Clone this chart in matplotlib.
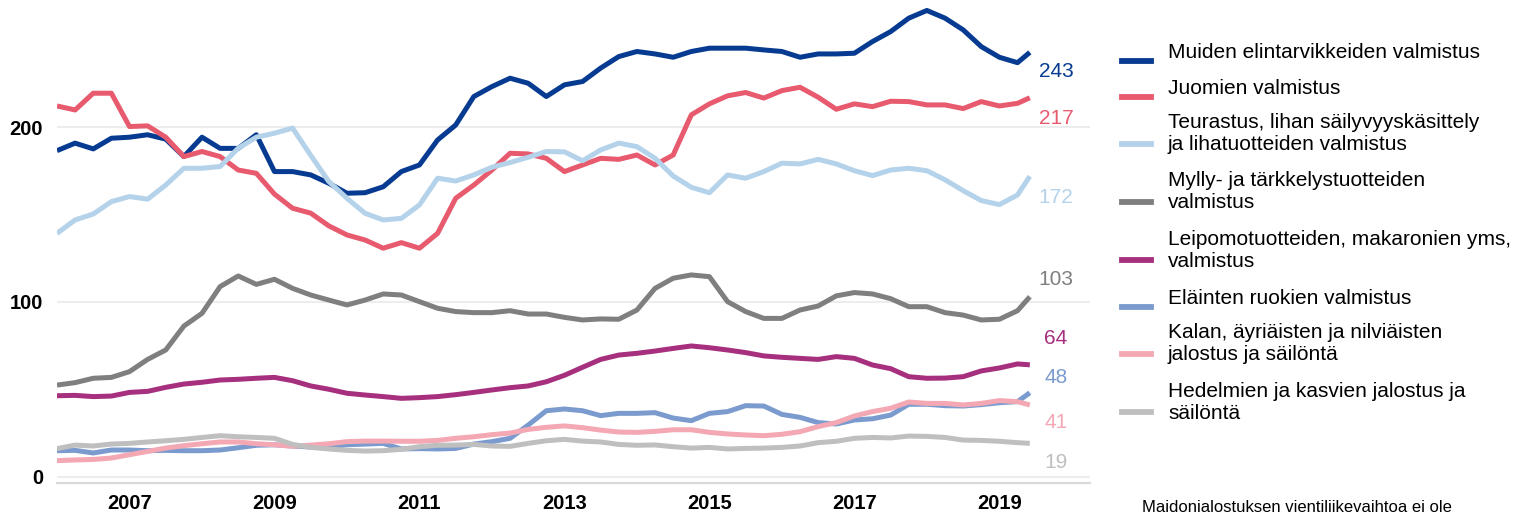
import numpy as np
import matplotlib.pyplot as plt
from matplotlib.lines import Line2D

plt.rcParams['font.family'] = ['Liberation Sans', 'DejaVu Sans']

# quarterly readings 2006..2019Q2 plus the last month
years = list(np.arange(2006, 2019.3, 0.25)) + [2019.42]

muiden = [186.7, 191, 187.7, 193.8, 194.4, 195.8, 193.3, 183.3, 194.4, 188, 188, 195.8, 174.7, 174.7,
          172.8, 168, 162.3, 162.6, 166, 174.7, 178.5, 192.8, 201.4, 217.7, 223.4, 228.2, 225.3, 217.7, 224.4,
          226.3, 234, 240.6, 243.5, 242.1, 240.2, 243.5, 245.4, 245.4, 245.4, 244.4, 243.5, 240.2, 242.1,
          242.1, 242.5, 249.2, 254.9, 262.6, 267, 262.6, 255.9, 246.3, 240.2, 237.1, 243]
juomien = [212.3, 210, 219.6, 219.6, 200.5, 200.9, 194.4, 183.3, 186.2, 183.3, 175.6, 173.7, 161.8, 153.7,
           150.9, 143.6, 138.4, 135.5, 130.8, 134, 130.8, 139.3, 159.4, 167, 175.6, 185.2, 184.8, 182.3, 174.7,
           178.5, 182.3, 181.7, 184.2, 178.5, 184.2, 207.2, 213.5, 218.1, 220, 216.8, 221.1, 223, 217.3,
           210.4, 213.5, 211.9, 215, 214.8, 212.9, 212.9, 210.8, 214.8, 212.3, 213.8, 217]
teurastus = [139.3, 147, 150.4, 157.5, 160.4, 158.9, 167, 176.6, 176.6, 177.6, 188.1, 194.4, 196.7, 199.6,
             184, 169, 159.4, 150.8, 147, 147.9, 155.6, 170.9, 169.3, 172.8, 177.2, 179.9, 182.9, 186.2, 186,
             180.9, 187.1, 191, 189, 182.3, 172.2, 165.7, 162.6, 172.8, 170.9, 174.7, 179.5, 179.1, 181.7,
             179.1, 175.2, 172.4, 175.6, 176.6, 175.2, 170, 163.8, 158.1, 155.8, 161.3, 172]
mylly = [52.4, 53.8, 56.3, 56.8, 60.1, 67.1, 72.5, 86.2, 93.5, 108.8, 114.9, 110.1, 113, 107.8,
         104, 101.1, 98.3, 101.1, 104.6, 104, 100.2, 96.4, 94.5, 93.9, 93.9, 95, 93.1, 93.1, 91.2,
         89.7, 90.3, 90.1, 95.4, 107.8, 113.6, 115.5, 114.5, 100.2, 94.5, 90.6, 90.6, 95.4, 97.7,
         103.5, 105.4, 104.6, 101.9, 97.3, 97.3, 93.9, 92.5, 89.7, 90.1, 95, 103]
leipomo = [46.3, 46.5, 45.8, 46.1, 48.2, 48.8, 51.1, 53, 54, 55.3, 55.7, 56.3, 56.8, 54.9,
           51.9, 50, 47.7, 46.7, 45.8, 44.8, 45.2, 45.8, 46.9, 48.2, 49.6, 50.9, 51.9, 54.3, 58,
           62.6, 67.1, 69.6, 70.6, 71.9, 73.4, 74.8, 73.8, 72.5, 71, 69.1, 68.3, 67.7, 67.1,
           68.7, 67.7, 63.9, 61.8, 57.2, 56.3, 56.4, 57.2, 60.5, 62.2, 64.5, 64]
elainten = [14.8, 15, 13.5, 15.2, 15.2, 14.8, 15, 14.8, 14.8, 15.2, 16.5, 17.9, 18.2, 17.5,
            16.9, 17.1, 18.2, 18.6, 19, 15.8, 16, 15.8, 16.1, 18.6, 20, 21.9, 29.5, 37.7, 38.7,
            37.7, 34.9, 36.2, 36.2, 36.6, 33.5, 32, 36.2, 37.2, 40.6, 40.4, 35.6, 33.9, 30.9,
            30.1, 32.4, 33.1, 35.2, 41.4, 41.4, 40.6, 40.4, 41.2, 42.3, 42.9, 48]
kalan = [9.1, 9.5, 9.8, 10.6, 12.5, 14.4, 16.3, 17.7, 18.8, 19.8, 19.8, 18.8, 18.2, 17.3,
         18, 18.8, 20, 20.3, 20.3, 20.2, 20.2, 20.7, 21.9, 22.8, 24, 24.9, 27, 28.2, 29,
         28, 26.6, 25.5, 25.3, 25.9, 26.8, 26.8, 25.3, 24.4, 23.8, 23.4, 24.2, 25.7, 28.6,
         30.9, 34.7, 37.2, 39.1, 42.7, 41.9, 41.9, 41, 41.9, 43.5, 42.9, 41]
hedelmien = [16, 18, 17.5, 18.6, 19, 19.8, 20.5, 21.3, 22.4, 23.4, 22.8, 22.4, 21.9, 18.4,
             16.7, 15.8, 15, 14.6, 14.8, 15.6, 17.1, 17.9, 18, 18.4, 17.5, 17.3, 19, 20.5, 21.3,
             20.3, 19.8, 18.4, 17.9, 18.1, 17.1, 16.3, 16.7, 15.8, 16.1, 16.3, 16.7, 17.5, 19.4,
             20.2, 21.9, 22.4, 22.1, 23.2, 23, 22.4, 20.9, 20.7, 20.2, 19.4, 19]

names = ["Muiden elintarvikkeiden valmistus",
         "Juomien valmistus",
         "Teurastus, lihan säilyvyyskäsittely\nja lihatuotteiden valmistus",
         "Mylly- ja tärkkelystuotteiden\nvalmistus",
         "Leipomotuotteiden, makaronien yms,\nvalmistus",
         "Eläinten ruokien valmistus",
         "Kalan, äyriäisten ja nilviäisten\njalostus ja säilöntä",
         "Hedelmien ja kasvien jalostus ja\nsäilöntä"]
series = [muiden, juomien, teurastus, mylly, leipomo, elainten, kalan, hedelmien]
colors = ['#073b91', '#e85a6e', '#b4d2ea', '#7f7f7f', '#a6307e', '#7b9bcf', '#f3a8b4', '#bfbfbf']
label_shift = [-11, -12, -12, 10, 15, 9, -10, -11]

W, H = 1521, 512
fig = plt.figure(figsize=(W / 100, H / 100), dpi=100)
ax = fig.add_axes([57 / W, 29 / H, (1090 - 57) / W, 483 / H])

for vals, col, sh in zip(series, colors, label_shift):
    ax.plot(years, vals, color=col, lw=3.6, solid_capstyle='butt')
    ax.text(2019.78, vals[-1] + sh, f"{vals[-1]:.0f}", color=col, fontsize=15,
            ha='center', va='center')

ax.set_xlim(2006, 2020.25)
ax.set_ylim(-3.7, 273)
ax.set_yticks([0, 100, 200])
ax.set_xticks(range(2007, 2020, 2))
ax.grid(axis='y', color='#ededed', lw=1.5)
ax.set_axisbelow(True)
for s in ['top', 'right', 'left']:
    ax.spines[s].set_visible(False)
ax.spines['bottom'].set_color('#d9d9d9')
ax.spines['bottom'].set_linewidth(1.6)
ax.tick_params(axis='both', length=0, labelsize=14.5)
ax.tick_params(axis='y', pad=10)
ax.tick_params(axis='x', pad=8)
for lab in ax.get_xticklabels() + ax.get_yticklabels():
    lab.set_fontweight('bold')

# legend drawn by hand
text_y = [52, 88, 133, 191.5, 250.5, 298, 343.5, 402.5]
handle_y = [61, 97, 144, 202, 260, 307, 354, 412]
for name, col, ty, hy in zip(names, colors, text_y, handle_y):
    fig.add_artist(Line2D([1122 / W, 1151 / W], [1 - hy / H, 1 - hy / H], color=col, lw=4.2,
                          transform=fig.transFigure))
    fig.text(1168 / W, 1 - ty / H, name, fontsize=15, va='center', ha='left', linespacing=1.2)

fig.text(1142 / W, 1 - 500 / H, "Maidonialostuksen vientiliikevaihtoa ei ole", fontsize=12,
         va='top', ha='left')

fig.savefig('out.png', dpi=100)
